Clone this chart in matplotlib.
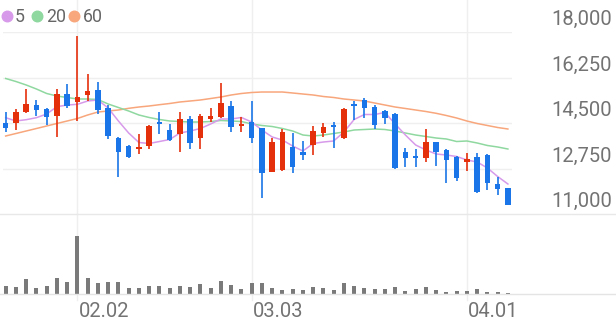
import matplotlib
matplotlib.use("Agg")
import matplotlib.pyplot as plt
from matplotlib.lines import Line2D
from matplotlib.transforms import offset_copy
import numpy as np

# daily candles, 2026-01-22 .. 2026-04-07 (50 trading days)
opens = [14512, 14489, 14935, 15192, 15038, 14758, 15615, 15319, 15577, 15769,
         15065, 13912, 13627, 13512, 13627, 14550, 14219, 14077, 14654, 13935,
         14642, 14731, 15165, 14373, 14550, 14296, 12615, 12681, 13589, 13396,
         13654, 14127, 14423, 13912, 15231, 15396, 15127, 14962, 14846, 13396,
         13231, 13142, 13758, 13450, 13192, 13012, 13192, 13269, 12142, 11988]
highs = [14935, 15038, 15808, 15396, 15088, 15796, 16012, 17858, 16385, 16077,
         15192, 13950, 13650, 14077, 14423, 14912, 14462, 14935, 14769, 14835,
         15065, 16027, 15346, 14719, 15346, 14300, 13912, 14258, 14127, 13820,
         14396, 14489, 14527, 15065, 15346, 15450, 15192, 15000, 14880, 13527,
         13500, 14269, 13781, 13500, 13230, 13335, 13358, 13296, 12435, 12000]
lows = [14166, 14231, 14900, 14781, 14423, 13950, 15065, 14589, 15358, 14835,
        13873, 12412, 13165, 13308, 13500, 14077, 13820, 13396, 13500, 13500,
        14538, 14681, 14142, 14166, 13719, 11604, 12600, 12660, 12565, 13077,
        13269, 13973, 13527, 13900, 14615, 14681, 14269, 14450, 12740, 12796,
        12819, 13012, 12858, 12204, 12270, 12654, 11820, 11923, 11731, 11330]
closes = [14320, 14912, 15219, 14989, 14731, 15615, 15154, 15512, 15719, 15000,
          14000, 13385, 13204, 13577, 14373, 14473, 13846, 14654, 13731, 14781,
          14758, 15269, 14358, 14450, 13912, 12589, 13758, 14166, 12819, 13269,
          14192, 14358, 14346, 15027, 15154, 15065, 14423, 14704, 12758, 13165,
          13142, 13781, 13373, 13088, 12373, 13115, 11858, 12181, 11950, 11346]

ma5 = [14704, 14577, 14627, 14704, 14846, 15127, 15192, 15219, 15346, 15385,
       15077, 14577, 14115, 13750, 13712, 13788, 13865, 14115, 14192, 14288,
       14462, 14654, 14654, 14712, 14538, 14231, 13962, 13846, 13615, 13423,
       13712, 13769, 13808, 14154, 14635, 14827, 14827, 14904, 14462, 14038,
       13654, 13462, 13308, 13269, 13212, 13077, 13000, 12769, 12442, 12154]
ma20 = [16212, 16096, 15962, 15808, 15635, 15538, 15481, 15423, 15423, 15404,
        15231, 15096, 14962, 14808, 14712, 14635, 14577, 14558, 14538, 14538,
        14558, 14596, 14577, 14558, 14462, 14404, 14365, 14288, 14192, 14038,
        14000, 14038, 14096, 14154, 14231, 14250, 14269, 14250, 14192, 14115,
        14038, 13981, 13923, 13885, 13788, 13808, 13731, 13635, 13577, 13500]
ma60 = [14000, 14096, 14192, 14288, 14385, 14481, 14577, 14673, 14808, 14923,
        14962, 15000, 15065, 15115, 15154, 15204, 15250, 15308, 15346, 15385,
        15442, 15500, 15577, 15635, 15673, 15692, 15692, 15692, 15654, 15615,
        15577, 15519, 15481, 15423, 15385, 15346, 15269, 15192, 15115, 15058,
        15000, 14942, 14873, 14788, 14692, 14577, 14481, 14404, 14327, 14269]

volume_k = [24, 22, 45, 19, 25, 47, 36, 175, 47, 34, 35, 35, 17, 18, 25, 25, 17,
            25, 20, 30, 17, 39, 27, 14, 34, 34, 18, 13, 14, 11, 20, 18, 11, 34,
            24, 18, 14, 14, 22, 9, 14, 21, 11, 7, 8, 8, 15, 6, 6, 3]

price_ticks = [11000, 12750, 14500, 16250, 18000]
date_idx = [7, 24, 45]
date_labels = ["02.02", "03.03", "04.01"]

RED = "#e5300c"
BLUE = "#1a76e8"
GRID = "#efefef"
TXT = "#737373"
FONT = ["Roboto", "DejaVu Sans"]

W, H = 616, 321
fig = plt.figure(figsize=(W / 100, H / 100), dpi=100)


def box(l, t, r, b):
    return [l / W, 1 - b / H, (r - l) / W, (b - t) / H]


ax = fig.add_axes(box(3, 32, 512, 214))
axv = fig.add_axes(box(3, 214, 512, 294))

o = np.array(opens)
h = np.array(highs)
l = np.array(lows)
c = np.array(closes)
x = np.arange(len(o))
cols = [RED if cc >= oo else BLUE for oo, cc in zip(o, c)]

for a in (ax, axv):
    a.set_xlim(-0.26, 49.4)
    for s in a.spines.values():
        s.set_visible(False)
    a.set_xticks([])
    a.set_yticks([])

# moving averages behind candles
ax.plot(x, ma60, color="#f8a67c", lw=1.1, zorder=1)
ax.plot(x, ma20, color="#8fd8a0", lw=1.1, zorder=1)
ax.plot(x, ma5, color="#d79aea", lw=1.1, zorder=1)

ax.vlines(x, l, h, colors=cols, lw=1.2, zorder=3)
body_h = np.maximum(np.abs(c - o), 60)
ax.bar(x, body_h, bottom=np.minimum(o, c), width=0.55, color=cols, zorder=3)

ax.set_ylim(11000, 18000)
for v in price_ticks[1:]:
    ax.axhline(v, color=GRID, lw=1, zorder=0)
ylab_tr = offset_copy(ax.get_yaxis_transform(), fig=fig, x=0, y=7, units="dots")
for v in price_ticks:
    ax.text((612 - 3) / 509, v, f"{v:,}", transform=ylab_tr, ha="right",
            va="baseline", fontsize=14.5, color=TXT, family=FONT)

# date grid lines run from the top of the figure down past the volume base
for i in date_idx:
    ax.axvline(i, ymin=0, ymax=214 / 182, color=GRID, lw=1, zorder=0, clip_on=False)
    axv.axvline(i, ymin=-6 / 80, ymax=1, color=GRID, lw=1, zorder=0, clip_on=False)

axv.bar(x, volume_k, width=0.4, color="#7a7a7a")
axv.set_ylim(0, max(volume_k) * 80 / 58.3)
xlab_tr = offset_copy(axv.get_xaxis_transform(), fig=fig, x=1, y=-23, units="dots")
for i, lab in zip(date_idx, date_labels):
    axv.text(i, 0, lab, transform=xlab_tr, ha="left", va="baseline",
             fontsize=14.5, color=TXT, family=FONT)

# full-width base lines
fig.add_artist(Line2D([0, 1], [1 - 214 / H] * 2, color="#e8e8e8", lw=1))
fig.add_artist(Line2D([0, 1], [1 - 294 / H] * 2, color="#e4e4e4", lw=1))

# legend
leg = [("5", "#d79aea", 7, 15), ("20", "#8fd8a0", 37, 46.5), ("60", "#f8a67c", 73.5, 82.5)]
for lab, col, dx, tx in leg:
    fig.add_artist(Line2D([dx / W], [1 - 15.7 / H], marker="o", markersize=7.6,
                          color=col, lw=0))
    fig.text(tx / W, 1 - 21.7 / H, lab, ha="left", va="baseline",
             fontsize=12.8, color="#666666", family=FONT)

fig.savefig("out.png", dpi=100)
